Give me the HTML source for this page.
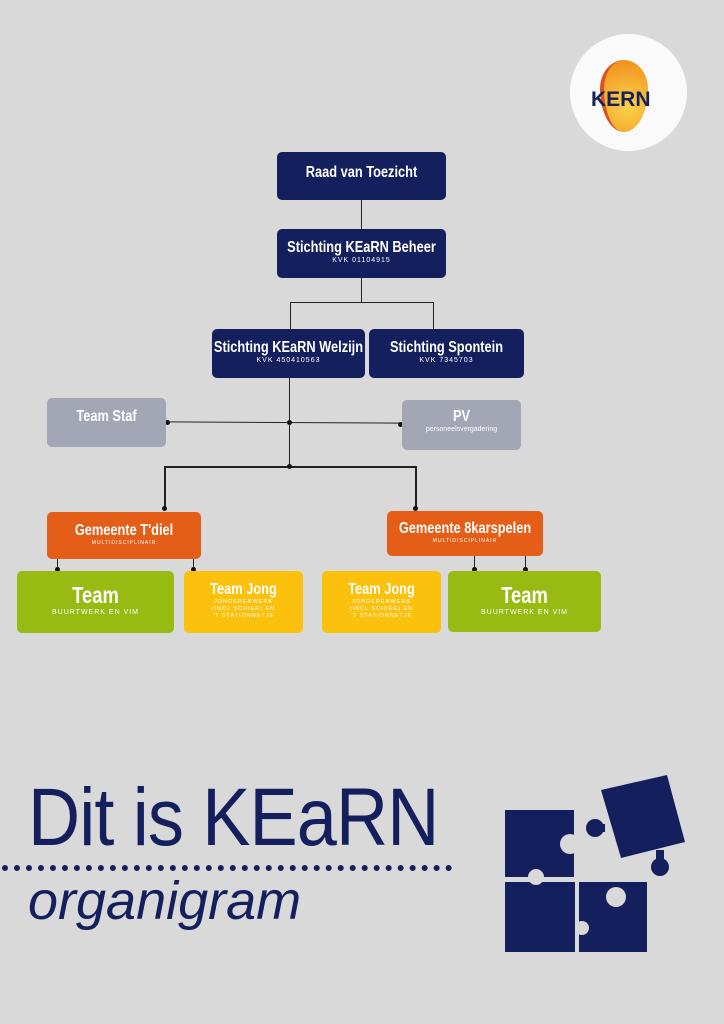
<!DOCTYPE html>
<html><head><style>
body{margin:0;width:724px;height:1024px;background:#d9d9d9;position:relative;overflow:hidden;font-family:"Liberation Sans",sans-serif}
.b{position:absolute;border-radius:5px;color:#fff;text-align:center;box-sizing:border-box}
.n{background:#14205e}
.t{font-family:"Liberation Sans Narrow","Liberation Sans",sans-serif;font-weight:bold;transform:scaleX(.8);display:block;white-space:nowrap;margin:0 -40px}
.s{font-size:7px;letter-spacing:1px;display:block;white-space:nowrap;margin:0 -20px}
.l{position:absolute;background:#222}
.d{position:absolute;width:5px;height:5px;border-radius:50%;background:#111}
</style></head><body>
<div style="position:absolute;left:570px;top:34px;width:117px;height:117px;border-radius:50%;background:#fafafa"></div>
<div style="position:absolute;left:600px;top:60px;width:44px;height:72px;border-radius:50% 50% 50% 50%/40% 40% 60% 60%;background:radial-gradient(circle at 55% 65%,#fbd34a,#f08a1a);border-left:4px solid #d9531e"></div>
<div style="position:absolute;left:591px;top:88px;font-weight:bold;font-size:21px;color:#14205e">KERN</div>

<div class="l" style="left:361px;top:200px;width:1px;height:29px"></div>
<div class="l" style="left:361px;top:278px;width:1px;height:24px"></div>
<div class="l" style="left:290px;top:302px;width:143px;height:1px"></div>
<div class="l" style="left:290px;top:302px;width:1px;height:27px"></div>
<div class="l" style="left:433px;top:302px;width:1px;height:27px"></div>
<div class="l" style="left:289px;top:378px;width:1px;height:88px"></div>
<div class="l" style="left:167px;top:422px;width:233px;height:1px;transform:rotate(.3deg)"></div>
<div class="d" style="left:165px;top:420px"></div><div class="d" style="left:398px;top:422px"></div><div class="d" style="left:287px;top:420px"></div>
<div class="l" style="left:164px;top:466px;width:252px;height:2px"></div>
<div class="d" style="left:287px;top:464px"></div>
<div class="l" style="left:164px;top:466px;width:2px;height:42px"></div>
<div class="l" style="left:415px;top:466px;width:2px;height:42px"></div>
<div class="d" style="left:162px;top:506px"></div><div class="d" style="left:413px;top:506px"></div>
<div class="l" style="left:57px;top:559px;width:1px;height:11px"></div><div class="d" style="left:55px;top:567px"></div>
<div class="l" style="left:193px;top:559px;width:1px;height:11px"></div><div class="d" style="left:191px;top:567px"></div>
<div class="l" style="left:474px;top:556px;width:1px;height:14px"></div><div class="d" style="left:472px;top:567px"></div>
<div class="l" style="left:525px;top:556px;width:1px;height:14px"></div><div class="d" style="left:523px;top:567px"></div>

<div class="b n" style="left:277px;top:152px;width:169px;height:48px;padding-top:12px"><span class="t" style="font-size:16px">Raad van Toezicht</span></div>
<div class="b n" style="left:277px;top:229px;width:169px;height:49px;padding-top:10px"><span class="t" style="font-size:16px">Stichting KEaRN Beheer</span><span class="s">KVK 01104915</span></div>
<div class="b n" style="left:212px;top:329px;width:153px;height:49px;padding-top:10px"><span class="t" style="font-size:16px">Stichting KEaRN Welzijn</span><span class="s">KVK 450410563</span></div>
<div class="b n" style="left:369px;top:329px;width:155px;height:49px;padding-top:10px"><span class="t" style="font-size:16px">Stichting Spontein</span><span class="s">KVK 7345703</span></div>
<div class="b" style="left:47px;top:398px;width:119px;height:49px;background:#a2a6b5;padding-top:10px"><span class="t" style="font-size:16px">Team Staf</span></div>
<div class="b" style="left:402px;top:400px;width:119px;height:50px;background:#a2a6b5;padding-top:8px"><span class="t" style="font-size:16px">PV</span><span style="font-size:7px;display:block">personeelsvergadering</span></div>
<div class="b" style="left:47px;top:512px;width:154px;height:47px;background:#e55e17;padding-top:10px"><span class="t" style="font-size:16px">Gemeente T'diel</span><span class="s" style="font-size:5px">MULTIDISCIPLINAIR</span></div>
<div class="b" style="left:387px;top:511px;width:156px;height:45px;background:#e55e17;padding-top:9px"><span class="t" style="font-size:16px">Gemeente 8karspelen</span><span class="s" style="font-size:5px">MULTIDISCIPLINAIR</span></div>
<div class="b" style="left:17px;top:571px;width:157px;height:62px;background:#97bb12;padding-top:11px"><span class="t" style="font-size:23px">Team</span><span class="s">BUURTWERK EN VIM</span></div>
<div class="b" style="left:184px;top:571px;width:119px;height:62px;background:#fcc10d;padding-top:10px"><span class="t" style="font-size:16px">Team Jong</span><span class="s" style="font-size:5.5px;line-height:7px">JONGERENWERK<br>(INCL SCHIER) EN<br>'T STATIONNETJE</span></div>
<div class="b" style="left:322px;top:571px;width:119px;height:62px;background:#fcc10d;padding-top:10px"><span class="t" style="font-size:16px">Team Jong</span><span class="s" style="font-size:5.5px;line-height:7px">JONGERENWERK<br>(INCL SCHIER) EN<br>'T STATIONNETJE</span></div>
<div class="b" style="left:448px;top:571px;width:153px;height:61px;background:#97bb12;padding-top:11px"><span class="t" style="font-size:23px">Team</span><span class="s">BUURTWERK EN VIM</span></div>

<div style="position:absolute;left:28px;top:772px;font-size:82px;line-height:92px;color:#14205e;letter-spacing:-1px;transform:scaleX(.88);transform-origin:0 0;white-space:nowrap">Dit is KEaRN</div>
<div style="position:absolute;left:2px;top:865px;width:450px;border-top:6px dotted #14205e"></div>
<div style="position:absolute;left:28px;top:870px;font-size:54px;font-style:italic;color:#14205e">organigram</div>

<svg style="position:absolute;left:490px;top:760px" width="210" height="200">
<g fill="#14205e">
<rect x="15" y="50" width="69" height="67"/>
<rect x="15" y="122" width="70" height="70"/>
<rect x="89" y="122" width="68" height="70"/>
<polygon points="111,30 177,15 195,82 131,98"/>
<circle cx="105" cy="68" r="9"/><rect x="100" y="64" width="15" height="8"/>
<circle cx="170" cy="107" r="9"/><rect x="166" y="90" width="8" height="16"/>
</g>
<g fill="#d9d9d9">
<circle cx="80" cy="84" r="10"/>
<circle cx="46" cy="117" r="8"/>
<circle cx="126" cy="137" r="10"/>
<circle cx="92" cy="168" r="7"/>
</g>
</svg>
</body></html>
